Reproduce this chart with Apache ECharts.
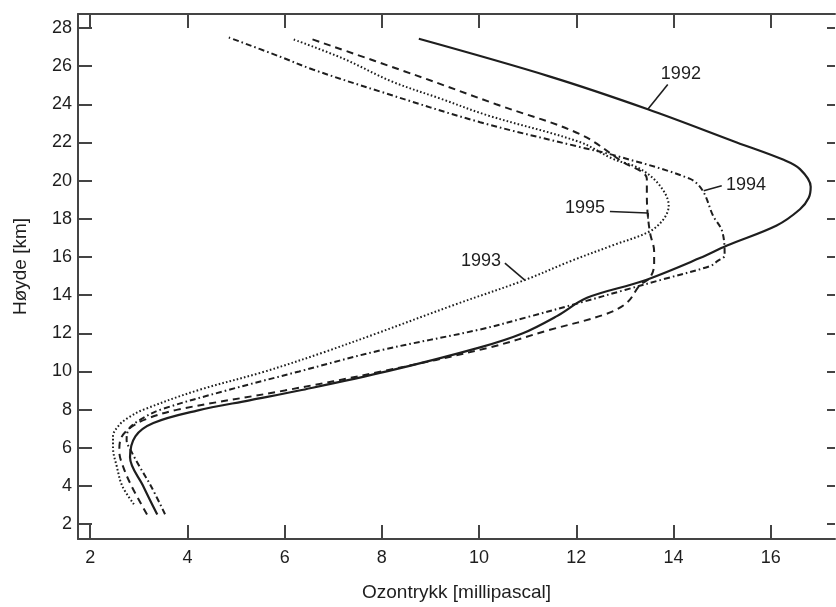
<!DOCTYPE html>
<html>
<head>
<meta charset="utf-8">
<script src="https://cdn.jsdelivr.net/npm/echarts@6/dist/echarts.min.js"></script>
<style>
  html, body { margin: 0; padding: 0; background: #fff; }
  #chart { width: 836px; height: 607px; }
</style>
</head>
<body>
<div id="chart"></div>
<script>
// ozontrykk (mPa) mot høyde (km), fra bunn til topp
var h1992 = [2.5, 4.0, 5.5, 6.6, 7.3, 7.95, 8.5, 9.0, 10.0, 11.26, 12.0, 12.9, 13.86, 14.74, 15.94, 16.6, 17.65, 18.5, 19.1, 19.68, 20.6, 21.1, 22.0, 23.74, 25.45, 27.43];
var p1992 = [3.38, 3.09, 2.82, 2.93, 3.3, 4.2, 5.3, 6.3, 8.1, 10.02, 10.9, 11.6, 12.22, 13.37, 14.54, 15.1, 16.12, 16.6, 16.78, 16.82, 16.6, 16.25, 15.3, 13.47, 11.46, 8.76];

var h1993 = [3.04, 4.0, 5.0, 6.0, 6.6, 7.2, 7.6, 8.0, 9.0, 10.0, 11.0, 12.0, 13.5, 14.79, 15.8, 16.61, 17.34, 18.0, 18.69, 19.73, 20.62, 21.14, 22.02, 23.4, 24.3, 25.2, 26.4, 27.43];
var p1993 = [2.90, 2.66, 2.55, 2.47, 2.47, 2.6, 2.8, 3.1, 4.2, 5.6, 6.8, 7.9, 9.5, 10.94, 11.9, 12.75, 13.51, 13.8, 13.9, 13.72, 13.31, 12.75, 12.07, 10.2, 9.2, 8.2, 7.2, 6.15];

var h1994 = [2.52, 4.0, 5.0, 5.8, 6.4, 7.0, 7.5, 8.0, 9.0, 10.0, 11.1, 12.2, 12.85, 13.6, 14.27, 14.84, 15.52, 15.78, 16.09, 17.34, 18.17, 19.47, 20.1, 21.29, 21.76, 23.06, 24.67, 25.82, 26.49, 27.53];
var p1994 = [3.54, 3.25, 3.02, 2.85, 2.75, 2.8, 3.05, 3.45, 4.8, 6.3, 7.96, 10.02, 11.0, 12.07, 13.0, 13.8, 14.75, 14.9, 15.05, 15.0, 14.81, 14.6, 14.33, 12.83, 12.07, 10.02, 7.96, 6.58, 5.91, 4.82];

var h1995 = [2.5, 4.0, 5.0, 5.8, 6.4, 7.0, 7.5, 8.0, 9.0, 10.0, 11.26, 12.14, 13.0, 13.6, 14.53, 14.9, 15.6, 16.3, 17.2, 18.17, 19.2, 20.1, 21.0, 22.44, 24.0, 25.5, 27.48];
var p1995 = [3.17, 2.85, 2.68, 2.6, 2.62, 2.8, 3.15, 3.8, 6.0, 8.0, 10.22, 11.4, 12.6, 13.04, 13.31, 13.51, 13.6, 13.6, 13.52, 13.47, 13.45, 13.45, 12.94, 12.07, 10.35, 8.72, 6.48];

var xTicks = [2, 4, 6, 8, 10, 12, 14, 16];
var yTicks = [2, 4, 6, 8, 10, 12, 14, 16, 18, 20, 22, 24, 26, 28];

function pairs(p, h) {
  return p.map(function (v, i) { return [v, h[i]]; });
}

var ink = '#1e1e1e';
var font = 'Liberation Sans, Arial, Helvetica, sans-serif';

function leader(segs) {
  return {
    silent: true,
    symbol: ['none', 'none'],
    label: { show: false },
    lineStyle: { type: 'solid', color: ink, width: 1.6 },
    data: segs.map(function (s) { return [{ coord: s[0] }, { coord: s[1] }]; })
  };
}

function tag(text, at) {
  return {
    silent: true,
    symbol: 'circle',
    symbolSize: 1,
    itemStyle: { color: 'rgba(0,0,0,0)' },
    label: { show: true, position: 'inside', formatter: text, color: ink, fontSize: 18, fontFamily: font },
    data: [{ coord: at }]
  };
}

function line(name, p, h, dash) {
  return {
    name: name,
    type: 'line',
    smooth: 0.35,
    showSymbol: false,
    lineStyle: { color: ink, width: 2, type: dash },
    data: pairs(p, h)
  };
}

var s92 = line('1992', p1992, h1992, 'solid');
s92.lineStyle.width = 2.2;
s92.markPoint = tag('1992', [14.15, 25.56]);
s92.markLine = leader([[[13.88, 25.04], [13.47, 23.74]]]);

var s93 = line('1993', p1993, h1993, [1.6, 2.2]);
s93.markPoint = tag('1993', [10.04, 15.78]);
s93.markLine = leader([[[10.53, 15.68], [10.94, 14.79]]]);

var s94 = line('1994', p1994, h1994, [6, 3, 1.6, 3]);
s94.markPoint = tag('1994', [15.49, 19.78]);
s94.markLine = leader([[[14.99, 19.73], [14.62, 19.47]]]);

var s95 = line('1995', p1995, h1995, [7, 5]);
s95.markPoint = tag('1995', [12.18, 18.54]);
s95.markLine = leader([[[12.69, 18.38], [13.47, 18.3]], [[13.47, 18.3], [13.47, 18.0]]]);

var axisLine = { show: true, lineStyle: { color: '#444', width: 2 } };
function tick(vals, len) {
  return { show: true, inside: true, length: len || 14, customValues: vals, lineStyle: { color: '#444', width: 2 } };
}

var chart = echarts.init(document.getElementById('chart'));
chart.setOption({
  animation: false,
  backgroundColor: '#fff',
  grid: { left: 78, top: 14, right: 1, bottom: 64 },
  xAxis: [{
    type: 'value', position: 'bottom', min: 1.75, max: 17.32,
    name: 'Ozontrykk [millipascal]', nameLocation: 'middle', nameGap: 44,
    nameTextStyle: { color: ink, fontSize: 19, fontFamily: font },
    axisLine: axisLine, axisTick: tick(xTicks), splitLine: { show: false },
    axisLabel: { customValues: xTicks, margin: 10, color: ink, fontSize: 18, fontFamily: font }
  }, {
    type: 'value', position: 'top', min: 1.75, max: 17.32,
    axisLine: axisLine, axisTick: tick(xTicks), splitLine: { show: false },
    axisLabel: { show: false }
  }],
  yAxis: [{
    type: 'value', position: 'left', min: 1.22, max: 28.73,
    name: 'Høyde [km]', nameLocation: 'middle', nameGap: 48,
    nameTextStyle: { color: ink, fontSize: 19, fontFamily: font, padding: [0, 0, 0, 20] },
    axisLine: axisLine, axisTick: tick(yTicks), splitLine: { show: false },
    axisLabel: { customValues: yTicks, margin: 6, color: ink, fontSize: 18, fontFamily: font }
  }, {
    type: 'value', position: 'right', min: 1.22, max: 28.73,
    axisLine: { show: false }, axisTick: tick(yTicks, 8), splitLine: { show: false },
    axisLabel: { show: false }
  }],
  series: [s92, s93, s94, s95]
});
</script>
</body>
</html>
